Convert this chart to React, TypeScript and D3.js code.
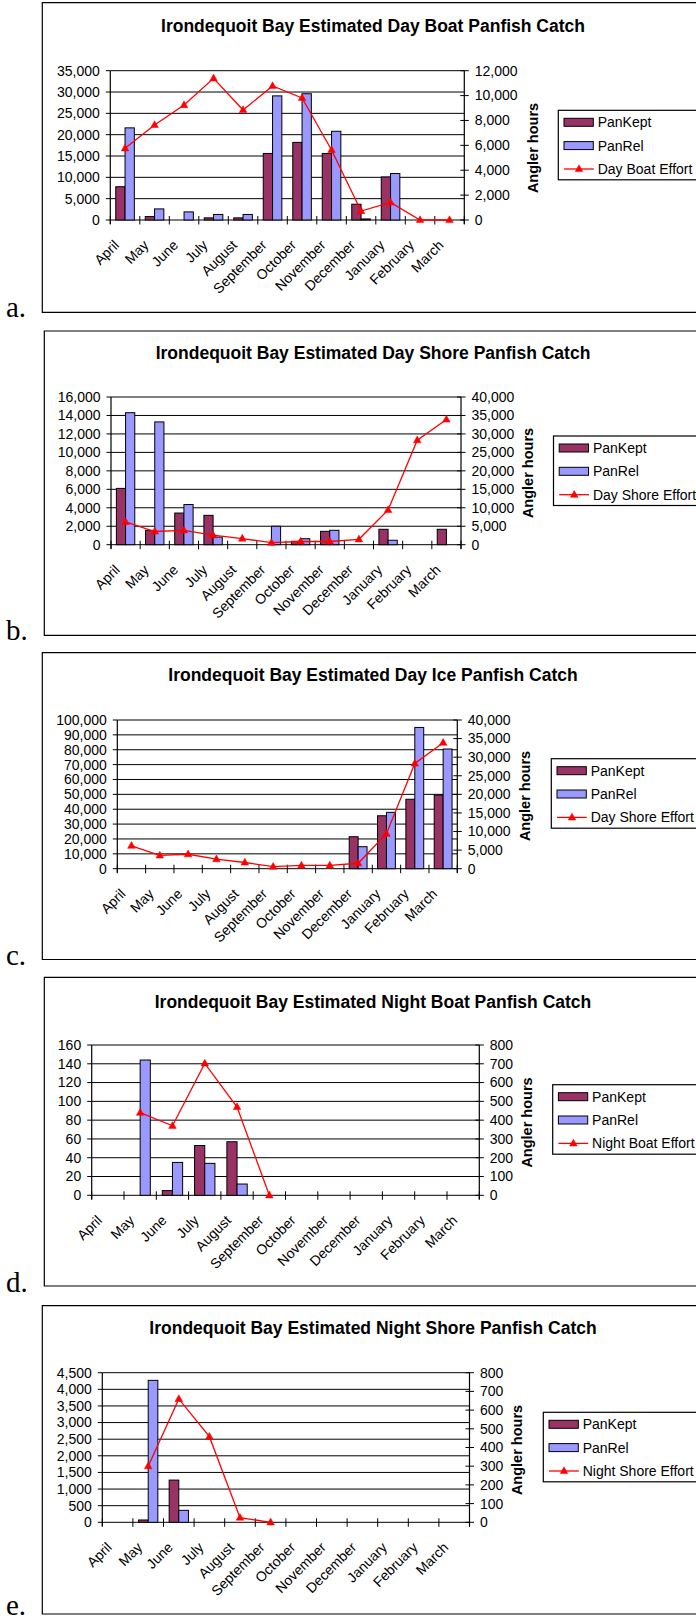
import React from "react";
import * as d3 from "d3";

const months = ["April", "May", "June", "July", "August", "September", "October", "November", "December", "January", "February", "March"];

// a. Day Boat
const dayBoatKept = [7800, 800, 0, 500, 500, 15600, 18200, 15600, 3700, 10100, 0, 0];
const dayBoatRel = [21600, 2600, 1900, 1300, 1300, 29100, 29600, 20800, 250, 10900, 0, 0];
const dayBoatEffort = [5760, 7640, 9240, 11390, 8840, 10770, 9810, 5630, 720, 1420, 0, 0];

// b. Day Shore
const dayShoreKept = [6100, 1550, 3430, 3180, 0, 0, 370, 1450, 0, 1670, 0, 1670];
const dayShoreRel = [14300, 13300, 4350, 830, 0, 2000, 650, 1560, 0, 480, 0, 0];
const dayShoreEffort = [6170, 3570, 3890, 2570, 1670, 540, 870, 870, 1460, 9400, 28300, 33900];

// c. Day Ice
const dayIceKept = [0, 0, 0, 0, 0, 0, 0, 0, 21500, 35600, 46700, 49500];
const dayIceRel = [0, 0, 0, 0, 0, 0, 0, 0, 14800, 37900, 95000, 80500];

// d. Night Boat
const nightBoatKept = [0, 0, 5, 53, 57, 0, 0, 0, 0, 0, 0, 0];
const nightBoatRel = [0, 144, 35, 34, 12, 0, 0, 0, 0, 0, 0, 0];
const nightBoatEffort = [null, 440, 370, 702, 470, 0, null, null, null, null, null, null];

// e. Night Shore
const nightShoreKept = [0, 70, 1270, 0, 0, 0, 0, 0, 0, 0, 0, 0];
const nightShoreRel = [0, 4270, 360, 0, 0, 0, 0, 0, 0, 0, 0, 0];
const nightShoreEffort = [null, 300, 660, 458, 25, 0, null, null, null, null, null, null];

const W = 696;
const H = 1621;
const SANS = '"Liberation Sans", Arial, sans-serif';
const SERIF = '"Liberation Serif", "Times New Roman", serif';
const KEPT = "#993366";
const REL = "#9999FF";
const RED = "#FF0000";

const panels = [
  {
    tag: "a.", tagY: 317,
    frame: { left: 42.3, top: 2.7, bottom: 312.3 },
    title: "Irondequoit Bay Estimated Day Boat Panfish Catch", titleY: 32,
    plot: { left: 110.3, right: 464.3, top: 70.7, bottom: 220 },
    leftMax: 35000, leftStep: 5000, rightMax: 12000, rightStep: 2000,
    kept: dayBoatKept, rel: dayBoatRel, effort: dayBoatEffort,
    effortName: "Day Boat Effort",
    angler: { x: 537.5, y: 148 },
    legend: { left: 558.3, top: 110.3 },
  },
  {
    tag: "b.", tagY: 640,
    frame: { left: 44.3, top: 331, bottom: 635.3 },
    title: "Irondequoit Bay Estimated Day Shore Panfish Catch", titleY: 359,
    plot: { left: 111, right: 461, top: 397, bottom: 544.7 },
    leftMax: 16000, leftStep: 2000, rightMax: 40000, rightStep: 5000,
    kept: dayShoreKept, rel: dayShoreRel, effort: dayShoreEffort,
    effortName: "Day Shore Effort",
    angler: { x: 533.3, y: 473 },
    legend: { left: 553.5, top: 436 },
  },
  {
    tag: "c.", tagY: 965,
    frame: { left: 42.3, top: 652.7, bottom: 959.5 },
    title: "Irondequoit Bay Estimated Day Ice Panfish Catch", titleY: 680.7,
    plot: { left: 117.3, right: 457.3, top: 720, bottom: 868.7 },
    leftMax: 100000, leftStep: 10000, rightMax: 40000, rightStep: 5000,
    kept: dayIceKept, rel: dayIceRel, effort: dayShoreEffort,
    effortName: "Day Shore Effort",
    angler: { x: 529.7, y: 796 },
    legend: { left: 551.3, top: 758.7 },
  },
  {
    tag: "d.", tagY: 1291.7,
    frame: { left: 44.3, top: 977.3, bottom: 1286 },
    title: "Irondequoit Bay Estimated Night Boat Panfish Catch", titleY: 1007.5,
    plot: { left: 91.7, right: 479.3, top: 1045, bottom: 1195.3 },
    leftMax: 160, leftStep: 20, rightMax: 800, rightStep: 100,
    kept: nightBoatKept, rel: nightBoatRel, effort: nightBoatEffort,
    effortName: "Night Boat Effort",
    angler: { x: 532.1, y: 1122.5 },
    legend: { left: 552.7, top: 1084.7 },
  },
  {
    tag: "e.", tagY: 1615,
    frame: { left: 42.3, top: 1305.7, bottom: 1614 },
    title: "Irondequoit Bay Estimated Night Shore Panfish Catch", titleY: 1334.3,
    plot: { left: 102.3, right: 469.5, top: 1372.7, bottom: 1522.3 },
    leftMax: 4500, leftStep: 500, rightMax: 800, rightStep: 100,
    kept: nightShoreKept, rel: nightShoreRel, effort: nightShoreEffort,
    effortName: "Night Shore Effort",
    angler: { x: 521.7, y: 1450 },
    legend: { left: 543.3, top: 1412.3 },
  },
];

const fmt = d3.format(",");

function tri(x: number, y: number, key?: string) {
  return (
    <path
      key={key}
      d={`M${x},${y - 4.2} L${x + 3.8},${y + 2.6} L${x - 3.8},${y + 2.6} Z`}
      fill={RED}
      stroke={RED}
      strokeWidth={0.5}
    />
  );
}

function Panel({ p }: { p: any }) {
  const { plot } = p;
  const x = d3.scaleBand<string>().domain(months).range([plot.left, plot.right]).padding(0);
  const step = x.step();
  const bw = step * 0.315;
  const yL = d3.scaleLinear().domain([0, p.leftMax]).range([plot.bottom, plot.top]);
  const yR = d3.scaleLinear().domain([0, p.rightMax]).range([plot.bottom, plot.top]);
  const leftTicks = d3.range(0, p.leftMax + p.leftStep / 2, p.leftStep);
  const rightTicks = d3.range(0, p.rightMax + p.rightStep / 2, p.rightStep);
  const cx = (m: string) => (x(m) as number) + step / 2;
  const boundaries = d3.range(0, months.length + 1).map((i) => plot.left + i * step);

  const pts = months.map((m, i) => ({ m, v: p.effort[i] }));
  const line = d3
    .line<any>()
    .defined((d) => d.v != null)
    .x((d) => cx(d.m))
    .y((d) => yR(d.v));

  const lg = p.legend;
  const rowY = [lg.top + 12, lg.top + 35.3, lg.top + 58.7];

  return (
    <g>
      <path
        d={`M${W + 20},${p.frame.top} H${p.frame.left} V${p.frame.bottom} H${W + 20}`}
        fill="none"
        stroke="#000"
        strokeWidth={1.2}
      />
      <text x={6} y={p.tagY} fontFamily={SERIF} fontSize={29} fill="#000">
        {p.tag}
      </text>
      <text x={373} y={p.titleY} textAnchor="middle" fontFamily={SANS} fontWeight="bold" fontSize={17.5} fill="#000">
        {p.title}
      </text>

      {leftTicks.map((v) => (
        <line key={"g" + v} x1={plot.left} x2={plot.right} y1={yL(v)} y2={yL(v)} stroke="#000" strokeWidth={1} />
      ))}
      <line x1={plot.left} x2={plot.left} y1={plot.top} y2={plot.bottom + 4} stroke="#000" strokeWidth={1.2} />
      <line x1={plot.right} x2={plot.right} y1={plot.top} y2={plot.bottom + 4} stroke="#000" strokeWidth={1.2} />
      {leftTicks.map((v) => (
        <g key={"lt" + v}>
          <line x1={plot.left - 4.5} x2={plot.left} y1={yL(v)} y2={yL(v)} stroke="#000" strokeWidth={1} />
          <text x={plot.left - 10.5} y={yL(v)} dy="0.35em" textAnchor="end" fontFamily={SANS} fontSize={14} fill="#000">
            {fmt(v)}
          </text>
        </g>
      ))}
      {rightTicks.map((v) => (
        <g key={"rt" + v}>
          <line x1={plot.right - 4} x2={plot.right + 4.5} y1={yR(v)} y2={yR(v)} stroke="#000" strokeWidth={1} />
          <text x={plot.right + 10.5} y={yR(v)} dy="0.35em" textAnchor="start" fontFamily={SANS} fontSize={14} fill="#000">
            {fmt(v)}
          </text>
        </g>
      ))}
      {boundaries.map((bx, i) => (
        <line key={"xt" + i} x1={bx} x2={bx} y1={plot.bottom - 4} y2={plot.bottom + 4.5} stroke="#000" strokeWidth={1} />
      ))}

      {months.map((m, i) => {
        const c = cx(m);
        const k = p.kept[i];
        const r = p.rel[i];
        return (
          <g key={"b" + m}>
            {k > 0 && (
              <rect x={c - bw} y={yL(k)} width={bw} height={plot.bottom - yL(k)} fill={KEPT} stroke="#000" strokeWidth={1} />
            )}
            {r > 0 && (
              <rect x={c} y={yL(r)} width={bw} height={plot.bottom - yL(r)} fill={REL} stroke="#000" strokeWidth={1} />
            )}
          </g>
        );
      })}

      <path d={line(pts) || ""} fill="none" stroke={RED} strokeWidth={1.3} />
      {pts.filter((d) => d.v != null).map((d) => tri(cx(d.m), yR(d.v), "m" + d.m))}

      {months.map((m) => {
        const ex = cx(m) - 5;
        const ey = plot.bottom + 26;
        return (
          <text
            key={"xl" + m}
            transform={`translate(${ex},${ey}) rotate(-45)`}
            textAnchor="end"
            fontFamily={SANS}
            fontSize={14}
            fill="#000"
          >
            {m}
          </text>
        );
      })}

      <text
        transform={`translate(${p.angler.x},${p.angler.y}) rotate(-90)`}
        textAnchor="middle"
        fontFamily={SANS}
        fontWeight="bold"
        fontSize={14.5}
        fill="#000"
      >
        Angler hours
      </text>

      <rect x={lg.left} y={lg.top} width={220} height={69.5} fill="#fff" stroke="#000" strokeWidth={1.2} />
      <rect x={lg.left + 5.7} y={rowY[0] - 4} width={29.3} height={8} fill={KEPT} stroke="#000" strokeWidth={1} />
      <text x={lg.left + 39.4} y={rowY[0]} dy="0.35em" fontFamily={SANS} fontSize={14} fill="#000">PanKept</text>
      <rect x={lg.left + 5.7} y={rowY[1] - 4} width={29.3} height={8} fill={REL} stroke="#000" strokeWidth={1} />
      <text x={lg.left + 39.4} y={rowY[1]} dy="0.35em" fontFamily={SANS} fontSize={14} fill="#000">PanRel</text>
      <line x1={lg.left + 5.7} x2={lg.left + 35.5} y1={rowY[2]} y2={rowY[2]} stroke={RED} strokeWidth={1.3} />
      {tri(lg.left + 20.7, rowY[2])}
      <text x={lg.left + 39.4} y={rowY[2]} dy="0.35em" fontFamily={SANS} fontSize={14} fill="#000">{p.effortName}</text>
    </g>
  );
}

export default function App() {
  return (
    <svg
      width={W}
      height={H}
      viewBox={`0 0 ${W} ${H}`}
      style={{ position: "absolute", left: 0, top: 0, display: "block", background: "#fff" }}
    >
      <rect x={0} y={0} width={W} height={H} fill="#fff" />
      {panels.map((p) => (
        <Panel key={p.tag} p={p} />
      ))}
    </svg>
  );
}
